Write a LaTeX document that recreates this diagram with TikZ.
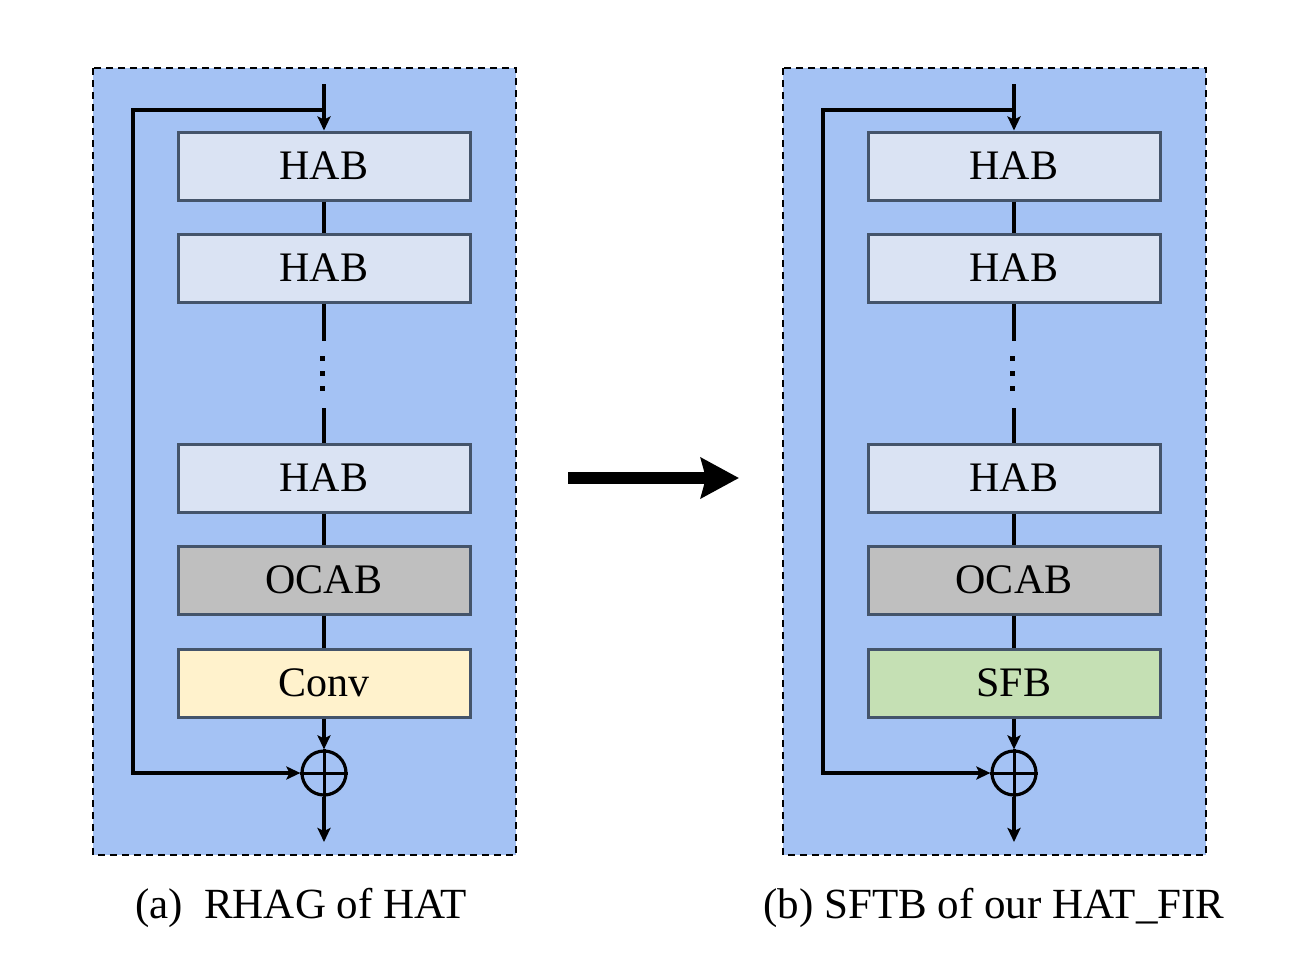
\documentclass[tikz,border=0pt]{standalone}
\usepackage{fontspec}
\setmainfont{Liberation Serif}
\usetikzlibrary{arrows.meta}
\definecolor{panelbg}{HTML}{A4C2F4}
\definecolor{habfill}{HTML}{DAE3F3}
\definecolor{boxborder}{HTML}{44546A}
\definecolor{ocabfill}{HTML}{BFBFBF}
\definecolor{convfill}{HTML}{FFF2CC}
\definecolor{sfbfill}{HTML}{C5E0B4}
\tikzset{
  panel/.style={fill=panelbg, draw=black, line width=2.5pt, dash pattern=on 7pt off 5pt},
  blockbox/.style={draw=boxborder, line width=3pt, minimum width=292pt, minimum height=68pt, inner sep=0pt, font=\fontsize{42}{44}\selectfont},
  conn/.style={draw=black, line width=3.5pt},
  arr/.style={conn, -{Stealth[length=14pt,width=13pt,inset=3pt]}},
  addnode/.style={circle, draw=black, line width=3.2pt, minimum size=44pt, inner sep=0pt},
  caption/.style={font=\fontsize{43}{46}\selectfont, anchor=base},
}
\newcommand{\drawcolumn}[4]{%
  % #1 prefix, #2 x offset, #3 last label, #4 last colour
  \begin{scope}[xshift=#2]
    \path[panel] (93,68) rectangle (516,855);
    \node[blockbox, fill=habfill] (#1h1) at (324,166) {HAB};
    \node[blockbox, fill=habfill] (#1h2) at (324,268) {HAB};
    \node[blockbox, fill=habfill] (#1h3) at (324,478) {HAB};
    \node[blockbox, fill=ocabfill] (#1oc) at (324,580) {OCAB};
    \node[blockbox, fill=#4] (#1last) at (324,683) {#3};
    \node[addnode] (#1add) at (324,773) {};
    \draw[line width=3pt] (#1add.north) -- (#1add.south) (#1add.west) -- (#1add.east);
    \coordinate (#1in) at (324,84);
    \coordinate (#1split) at (324,110);
    \coordinate (#1corner1) at (133,110);
    \coordinate (#1corner2) at (133,773);
    \coordinate (#1out) at (324,842);
    \coordinate (#1da) at (324,341);
    \coordinate (#1db) at (324,408);
    \draw[arr] (#1in) -- (#1h1.north);
    \draw[arr, line join=miter] (#1split) -- (#1corner1) -- (#1corner2) -- (#1add.west);
    \draw[conn] (#1h1.south) -- (#1h2.north);
    \draw[conn] (#1h2.south) -- (#1da);
    \draw[conn] (#1db) -- (#1h3.north);
    \fill (319.5,355.5) rectangle (324.5,360.5);
    \fill (319.5,370.5) rectangle (324.5,375.5);
    \fill (319.5,385.5) rectangle (324.5,390.5);
    \draw[conn] (#1h3.south) -- (#1oc.north);
    \draw[conn] (#1oc.south) -- (#1last.north);
    \draw[arr] (#1last.south) -- (#1add.north);
    \draw[arr] (#1add.south) -- (#1out);
  \end{scope}
}
\begin{document}
\begin{tikzpicture}[x=1pt, y=-1pt]
  \useasboundingbox (0,0) rectangle (1304,972);
  \drawcolumn{a}{0pt}{Conv}{convfill}
  \drawcolumn{b}{690pt}{SFB}{sfbfill}
  \node[caption] (capa) at (301,918) {(a)\ \ RHAG of HAT};
  \node[caption] (capb) at (994,918) {(b) SFTB of our HAT\_FIR};
  \coordinate (bigstart) at (568,478);
  \coordinate (bigend) at (739,478);
  \draw[line width=12pt, -{Stealth[length=38pt,width=40pt,inset=5pt]}] (bigstart) -- (bigend);
\end{tikzpicture}
\end{document}
